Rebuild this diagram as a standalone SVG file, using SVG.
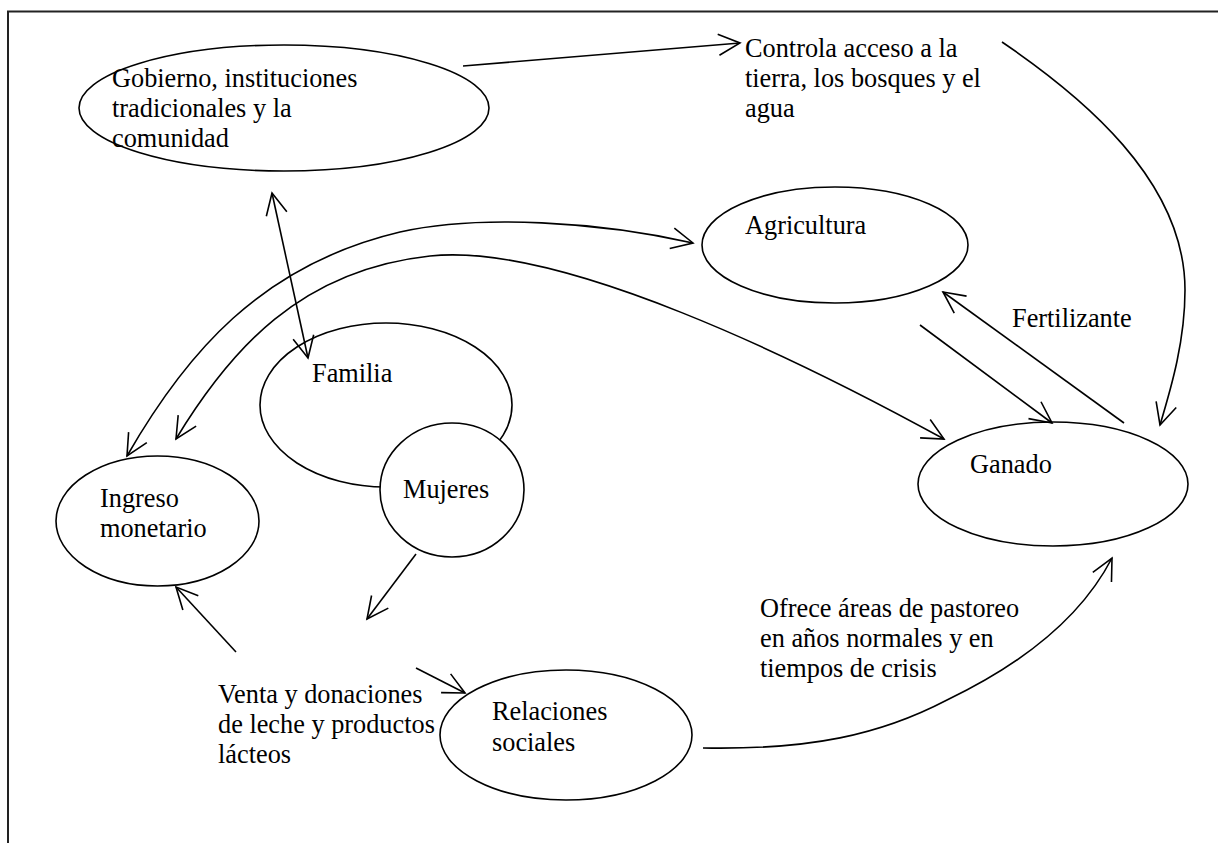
<svg xmlns="http://www.w3.org/2000/svg" width="1218" height="843" viewBox="0 0 1218 843">
<defs>
<marker id="ah" markerUnits="userSpaceOnUse" markerWidth="40" markerHeight="40" viewBox="-30 -20 40 40" refX="0" refY="0" orient="auto-start-reverse">
<path d="M-21.5,-10.5 L0,0 L-21.5,10.5" fill="none" stroke="#000" stroke-width="1.6"/>
</marker>
</defs>
<style>
.n{fill:#fff;stroke:#000;stroke-width:1.6}
.c{fill:none;stroke:#000;stroke-width:1.6}
text{font-family:"Liberation Serif","Times New Roman",serif;font-size:26.3px;fill:#000}
</style>
<rect width="1218" height="843" fill="#fff"/>
<path d="M8,843 L8,11.5 L1218,11.5" fill="none" stroke="#222" stroke-width="2"/>
<g id="gobierno">
<ellipse class="n" cx="284" cy="108" rx="205" ry="63"/>
<text x="112" y="87">Gobierno, instituciones</text>
<text x="112" y="117">tradicionales y la</text>
<text x="112" y="147">comunidad</text>
</g>
<g id="controla">
<text x="745" y="57">Controla acceso a la</text>
<text x="745" y="87">tierra, los bosques y el</text>
<text x="745" y="117">agua</text>
</g>
<g id="agricultura">
<ellipse class="n" cx="835" cy="245" rx="133" ry="58"/>
<text x="745" y="234">Agricultura</text>
</g>
<g id="ganado">
<ellipse class="n" cx="1053" cy="484" rx="135" ry="62"/>
<text x="970" y="473">Ganado</text>
</g>
<g id="familia">
<ellipse class="n" cx="386" cy="405" rx="126" ry="82"/>
<text x="312" y="382">Familia</text>
</g>
<g id="mujeres">
<ellipse class="n" cx="452" cy="490" rx="72" ry="67"/>
<text x="403" y="498">Mujeres</text>
</g>
<g id="ingreso">
<ellipse class="n" cx="157.5" cy="521" rx="101.5" ry="65"/>
<text x="100" y="507">Ingreso</text>
<text x="100" y="537">monetario</text>
</g>
<g id="relaciones">
<ellipse class="n" cx="566" cy="735" rx="126" ry="65"/>
<text x="492" y="720">Relaciones</text>
<text x="492" y="751">sociales</text>
</g>
<g id="fertilizante">
<text x="1012" y="327">Fertilizante</text>
</g>
<g id="ofrece">
<text x="760" y="617">Ofrece áreas de pastoreo</text>
<text x="760" y="647">en años normales y en</text>
<text x="760" y="677">tiempos de crisis</text>
</g>
<g id="venta">
<text x="218" y="703">Venta y donaciones</text>
<text x="218" y="733">de leche y productos</text>
<text x="218" y="763">lácteos</text>
</g>
<g id="connectors">
<path class="c" d="M463,66 L740,43" marker-end="url(#ah)"/>
<path class="c" d="M1002,42 C1080,95 1185,180 1185,290 C1185,340 1172,385 1160,425" marker-end="url(#ah)"/>
<path class="c" d="M272,193 L308,358" marker-start="url(#ah)" marker-end="url(#ah)"/>
<path class="c" d="M127,456 C185,355 260,265 400,232 C480,214 600,222 693,243" marker-start="url(#ah)" marker-end="url(#ah)"/>
<path class="c" d="M176,439 C230,350 300,270 430,256 C560,242 800,360 944,439" marker-start="url(#ah)" marker-end="url(#ah)"/>
<path class="c" d="M920,325 L1052,423" marker-end="url(#ah)"/>
<path class="c" d="M1124,423 L943,292" marker-end="url(#ah)"/>
<path class="c" d="M416,554 L367,619" marker-end="url(#ah)"/>
<path class="c" d="M236,652 L176,587" marker-end="url(#ah)"/>
<path class="c" d="M416,668 L465,693" marker-end="url(#ah)"/>
<path class="c" d="M703,748 C810,750 880,735 947,700 C1020,665 1080,620 1112,558" marker-end="url(#ah)"/>
</g>
</svg>
